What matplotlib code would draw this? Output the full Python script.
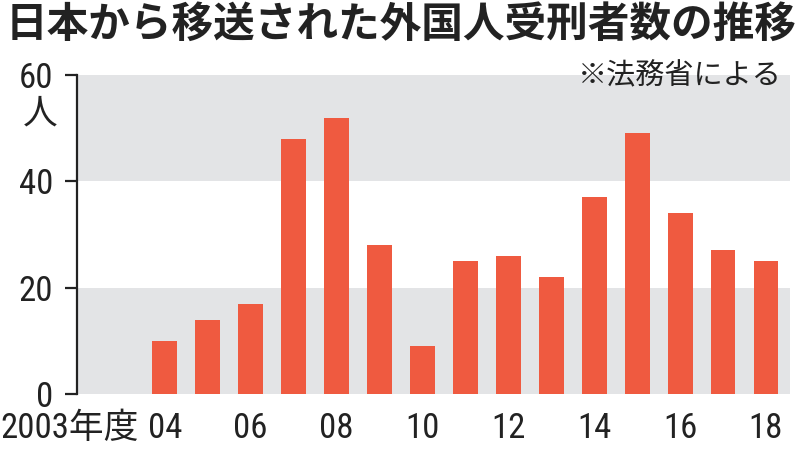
import matplotlib
matplotlib.use("Agg")
import matplotlib.pyplot as plt
import matplotlib.transforms as mtransforms
from matplotlib import font_manager

# data (fiscal years, number of transferred foreign prisoners)
years = [2003, 2004, 2005, 2006, 2007, 2008, 2009, 2010,
         2011, 2012, 2013, 2014, 2015, 2016, 2017, 2018]
counts = [0, 10, 14, 17, 48, 52, 28, 9, 25, 26, 22, 37, 49, 34, 27, 25]
xtick_years = [2004, 2006, 2008, 2010, 2012, 2014, 2016, 2018]
xtick_labels = ["04", "06", "08", "10", "12", "14", "16", "18"]
yticks = [0, 20, 40, 60]

title = "日本から移送された外国人受刑者数の推移"
source = "※法務省による"

bar_color = "#EF5A40"
band_color = "#E3E4E6"
ink = "#222222"
jp_font = ["Noto Sans CJK JP", "DejaVu Sans"]

# look for a narrow face for the numbers
names = {f.name for f in font_manager.fontManager.ttflist}
narrow = None
for cand in ["Roboto Condensed", "Liberation Sans Narrow", "Open Sans Condensed", "DejaVu Sans Condensed"]:
    if cand in names:
        narrow = cand
        break
stretch = "normal"
if narrow is None:
    conds = [f for f in font_manager.fontManager.ttflist
             if f.name == "DejaVu Sans" and f.stretch in ("condensed", "semi-condensed", 87.5, 75)]
    narrow = "DejaVu Sans"
    if conds:
        stretch = "condensed"
num_font = [narrow, "Noto Sans CJK JP"]
num_size = 25 if narrow != "DejaVu Sans" or stretch == "condensed" else 21

fig = plt.figure(figsize=(8, 4.54), dpi=100)
ax = fig.add_axes([0.096, 0.1322, 0.8915, 0.7026])

ax.axhspan(0, 20, color=band_color, lw=0, zorder=0)
ax.axhspan(40, 60, color=band_color, lw=0, zorder=0)
ax.bar(years, counts, width=0.58, color=bar_color, zorder=2)

ax.set_xlim(2001.95, 2018.56)
ax.set_ylim(0, 60)
for s in ["top", "right", "bottom"]:
    ax.spines[s].set_visible(False)
ax.spines["left"].set_linewidth(1.6)
ax.spines["left"].set_color(ink)

ax.set_yticks(yticks)
ax.set_yticklabels([str(v) for v in yticks], family=num_font, fontsize=num_size,
                   fontstretch=stretch, color=ink)
ax.tick_params(axis="y", length=9, width=1.6, color=ink, pad=8)
ax.set_xticks(xtick_years)
ax.set_xticklabels(xtick_labels, family=num_font, fontsize=num_size,
                   fontstretch=stretch, color=ink)
ax.tick_params(axis="x", length=0, pad=13)

# first year label, pushed left of the 2003 slot
trans = mtransforms.blended_transform_factory(ax.transData, ax.get_xaxis_text1_transform(13)[0])
ax.text(2003.4, 0, "2003年度", transform=trans, ha="right", va="top",
        family=num_font, fontsize=num_size, fontstretch=stretch, color=ink)

# unit label under the top tick
fig.text(40 / 800, 1 - 114 / 454, "人", family=jp_font, fontsize=25,
         color=ink, ha="center", va="center")

fig.text(6 / 800, 1 - 25 / 454, title, family=jp_font, fontsize=30,
         fontweight="bold", color=ink, ha="left", va="center")
fig.text(782 / 800, 1 - 76 / 454, source, family=jp_font, fontsize=21,
         color=ink, ha="right", va="center")

fig.savefig("out.png", dpi=100, facecolor="white")
